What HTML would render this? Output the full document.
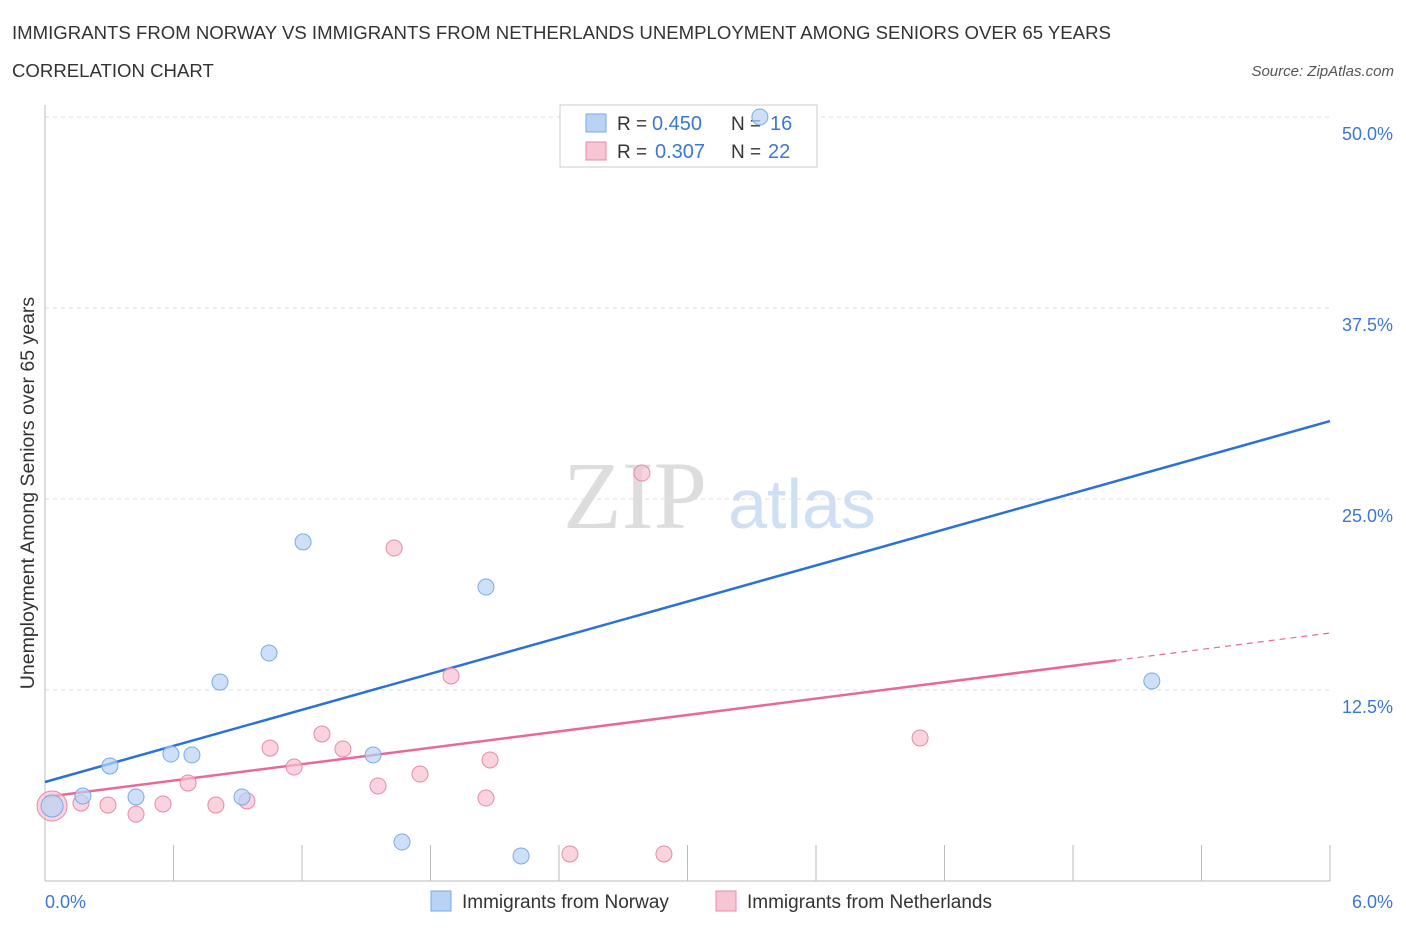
<!DOCTYPE html>
<html><head><meta charset="utf-8"><style>
body{margin:0;background:#fff;font-family:"Liberation Sans",sans-serif;}
svg{display:block}
</style></head><body>
<svg id="chart" width="1406" height="930">
<text x="12" y="39" font-size="18.6" fill="#333">IMMIGRANTS FROM NORWAY VS IMMIGRANTS FROM NETHERLANDS UNEMPLOYMENT AMONG SENIORS OVER 65 YEARS</text>
<text x="12" y="77" font-size="18.6" fill="#333">CORRELATION CHART</text>
<text x="1394" y="76" font-size="15" fill="#555" font-style="italic" text-anchor="end">Source: ZipAtlas.com</text>
<text x="635" y="528" font-size="96" fill="#ddd" font-family="Liberation Serif,serif" text-anchor="middle">ZIP</text>
<text x="802" y="528" font-size="70" fill="#cfe0f5" text-anchor="middle">atlas</text>
<text transform="translate(34,493) rotate(-90)" font-size="19.5" fill="#333" text-anchor="middle">Unemployment Among Seniors over 65 years</text>
<g id="grid"></g><g id="ticks"></g><g id="lines"></g>
<g>
<rect x="560" y="105" width="257" height="62" fill="#fff" stroke="#ccc"/>
<rect x="586" y="114" width="20" height="18" fill="#b8d3f5" stroke="#7aaae8"/>
<text x="617" y="130" font-size="19" fill="#333">R =</text>
<text x="652" y="130" font-size="20" fill="#3a78d4">0.450</text>
<text x="731" y="130" font-size="19" fill="#333">N =</text>
<text x="770" y="130" font-size="20" fill="#3a78d4">16</text>
<rect x="586" y="142" width="20" height="18" fill="#f7c6d4" stroke="#e88aa8"/>
<text x="617" y="158" font-size="19" fill="#333">R =</text>
<text x="655" y="158" font-size="20" fill="#3a78d4">0.307</text>
<text x="731" y="158" font-size="19" fill="#333">N =</text>
<text x="768" y="158" font-size="20" fill="#3a78d4">22</text>
</g>
<g id="pts"></g>
<g>
<rect x="431" y="891" width="20" height="20" fill="#b8d3f5" stroke="#7aaae8"/>
<text x="462" y="908" font-size="19" fill="#333">Immigrants from Norway</text>
<rect x="716" y="891" width="20" height="20" fill="#f7c6d4" stroke="#e88aa8"/>
<text x="747" y="908" font-size="19" fill="#333">Immigrants from Netherlands</text>
</g>
</svg>
<script>
const yTicks=[12.5,25,37.5,50];
const yTickLabels=["12.5%","25.0%","37.5%","50.0%"];
const norwayX=[0.033,0.177,0.303,0.425,0.588,0.686,0.817,0.920,1.046,1.205,1.532,1.667,2.059,2.223,3.338,5.168];
const norwayY=[4.91,5.56,7.53,5.50,8.31,8.25,13.02,5.50,14.92,22.19,8.25,2.55,19.24,1.64,50.0,13.09];
const nethX=[0.033,0.168,0.294,0.425,0.551,0.668,0.798,0.943,1.051,1.163,1.293,1.391,1.555,1.630,1.751,1.896,2.059,2.078,2.451,2.787,2.890,4.086];
const nethY=[4.91,5.10,4.97,4.38,5.04,6.41,4.97,5.24,8.70,7.46,9.62,8.64,6.22,21.79,7.00,13.42,5.43,7.92,1.77,26.70,1.77,9.36];
const norwayTrend=[6.48,30.1];
const nethTrend=[5.50,16.23];
const NS="http://www.w3.org/2000/svg";
const sx=v=>45+v/6*1285, sy=v=>881-v*15.28;
function mk(t,a,p){const e=document.createElementNS(NS,t);for(const k in a)e.setAttribute(k,a[k]);document.getElementById(p).appendChild(e);return e;}
yTicks.forEach((t,i)=>{
 const g=mk('line',{x1:45,x2:1330,y1:sy(t),y2:sy(t),stroke:'#ddd','stroke-dasharray':'4,4'},'grid');
 
 
 const l=mk('text',{x:1393,y:sy(t)+23,'font-size':18,fill:'#3a78d4','text-anchor':'end'},'ticks');
 l.textContent=yTickLabels[i];
 
 
});
let a=mk('line',{x1:45,x2:1330,y1:881,y2:881,stroke:'#bbb'},'ticks');


a=mk('line',{x1:45,x2:45,y1:105,y2:881,stroke:'#bbb'},'ticks');


for(let i=0;i<=10;i++){const t=mk('line',{x1:sx(i*0.6),x2:sx(i*0.6),y1:845,y2:881,stroke:'#bbb'},'ticks');
 
 }
let xl=mk('text',{x:45,y:908,'font-size':18,fill:'#3a78d4'},'ticks');xl.textContent='0.0%';


xl=mk('text',{x:1393,y:908,'font-size':18,fill:'#3a78d4','text-anchor':'end'},'ticks');xl.textContent='6.0%';


let tl=mk('line',{x1:sx(0),y1:sy(norwayTrend[0]),x2:sx(6),y2:sy(norwayTrend[1]),stroke:'#2a72d8','stroke-width':2.5},'lines');


const pAt=x=>nethTrend[0]+(nethTrend[1]-nethTrend[0])*x/6;
tl=mk('line',{x1:sx(0),y1:sy(pAt(0)),x2:sx(5),y2:sy(pAt(5)),stroke:'#e8689a','stroke-width':2.5},'lines');


tl=mk('line',{x1:sx(5),y1:sy(pAt(5)),x2:sx(6),y2:sy(pAt(6)),stroke:'#e8689a','stroke-width':1.2,'stroke-dasharray':'6,5'},'lines');


nethX.forEach((x,i)=>{const c=mk('circle',{cx:sx(x),cy:sy(nethY[i]),r:i==0?15:8,fill:'#f7c0d0','fill-opacity':0.7,stroke:'#e88aa8'},'pts');
 
 });
norwayX.forEach((x,i)=>{const c=mk('circle',{cx:sx(x),cy:sy(norwayY[i]),r:i==0?11:8,fill:'#b8d3f5','fill-opacity':0.7,stroke:'#7aaae8'},'pts');
 
 });
</script>
</body></html>
